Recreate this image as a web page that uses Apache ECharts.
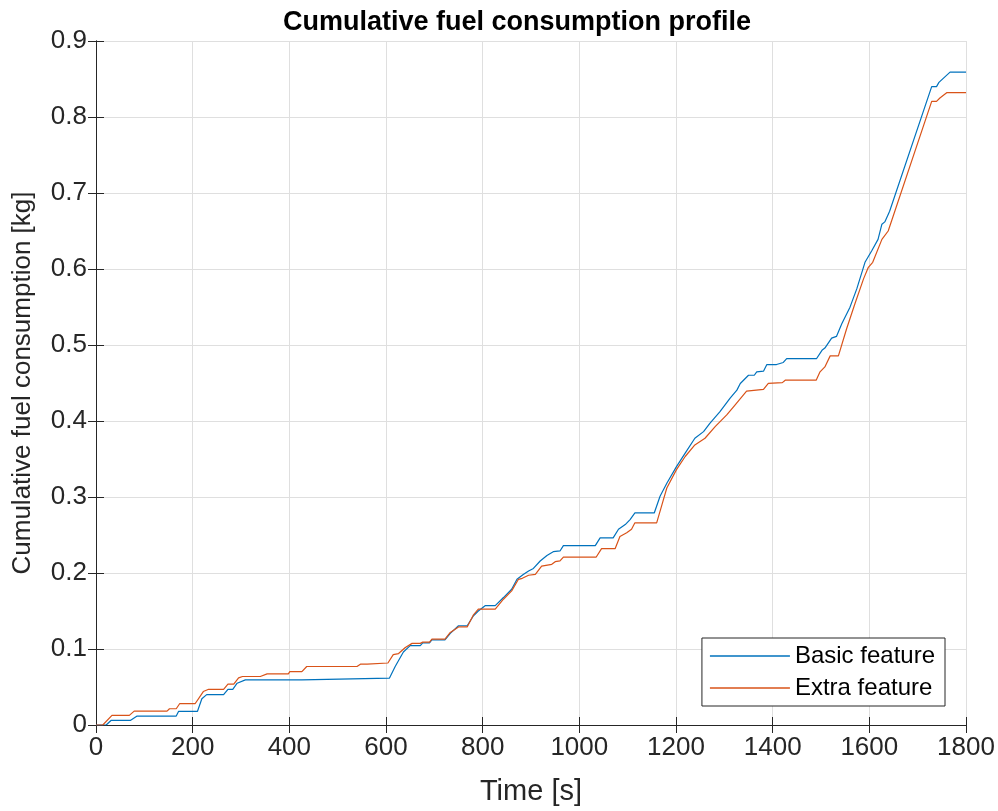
<!DOCTYPE html>
<html>
<head>
<meta charset="utf-8">
<script src="https://cdn.jsdelivr.net/npm/echarts@6/dist/echarts.min.js"></script>
<style>html,body{margin:0;padding:0;background:#fff;}#c{width:998px;height:811px;}</style>
</head>
<body>
<div id="c"></div>
<script>
var seriesNames = ['Basic feature', 'Extra feature'];
var basicTime = [0,21,31,71,85,166,171,210,219,229,264,273,283,292,309,426,429,607,619,636,650,671,676,690,695,722,733,750,768,781,791,805,826,843,860,871,884,895,905,919,933,946,960,967,1033,1043,1070,1081,1095,1105,1115,1155,1167,1181,1201,1219,1239,1257,1270,1291,1312,1326,1333,1350,1362,1367,1381,1388,1408,1422,1429,1491,1502,1508,1522,1532,1543,1560,1574,1591,1605,1618,1626,1632,1642,1729,1739,1744,1767,1800];
var basicFuel = [0,0,0.006,0.006,0.0118,0.0118,0.018,0.018,0.0345,0.040,0.040,0.047,0.047,0.055,0.0594,0.0594,0.0616,0.0616,0.077,0.096,0.1044,0.1044,0.108,0.108,0.112,0.112,0.1205,0.1306,0.1306,0.1437,0.150,0.157,0.157,0.1677,0.1786,0.1917,0.198,0.2027,0.206,0.2158,0.2231,0.228,0.229,0.236,0.236,0.2463,0.2463,0.2575,0.2637,0.2703,0.279,0.279,0.301,0.318,0.340,0.3577,0.3773,0.386,0.397,0.4123,0.430,0.4406,0.4494,0.4602,0.4602,0.4647,0.4655,0.4743,0.4743,0.477,0.4822,0.4822,0.493,0.496,0.509,0.5113,0.528,0.5498,0.5738,0.6088,0.624,0.639,0.659,0.662,0.676,0.840,0.840,0.8455,0.859,0.859];
var extraTime = [0,14,33,69,79,147,152,166,173,205,222,233,264,273,285,295,303,340,354,398,401,426,436,540,547,561,564,604,615,626,640,654,671,676,690,695,722,733,750,768,781,791,826,843,860,874,882,895,909,922,943,950,960,967,1035,1046,1074,1084,1098,1108,1115,1160,1171,1181,1201,1219,1239,1260,1281,1305,1322,1346,1350,1381,1391,1420,1426,1490,1498,1508,1519,1536,1553,1570,1588,1598,1607,1626,1639,1729,1739,1746,1760,1800];
var extraFuel = [0,0,0.0127,0.0127,0.0183,0.0183,0.0214,0.0214,0.028,0.028,0.044,0.047,0.047,0.0537,0.0537,0.062,0.0638,0.0638,0.0673,0.0673,0.0703,0.0703,0.077,0.077,0.080,0.080,0.0816,0.0816,0.0926,0.094,0.102,0.1074,0.1074,0.109,0.109,0.113,0.113,0.1218,0.129,0.129,0.145,0.1524,0.1524,0.1655,0.1765,0.1917,0.193,0.197,0.1983,0.209,0.2114,0.2149,0.216,0.221,0.221,0.232,0.232,0.248,0.2529,0.2575,0.266,0.266,0.290,0.3118,0.336,0.3533,0.3685,0.3773,0.3926,0.408,0.421,0.4393,0.4406,0.4415,0.4494,0.4505,0.4537,0.4537,0.4647,0.4712,0.4857,0.4857,0.5214,0.554,0.587,0.6022,0.6088,0.639,0.650,0.8205,0.8205,0.825,0.832,0.832];
var colors = ['#0072BD', '#D95319'];

function pairs(t, v) { return t.map(function (x, i) { return [x, v[i]]; }); }

var font = '"Liberation Sans", Arial, Helvetica, sans-serif';
var axisCol = '#262626';
var chart = echarts.init(document.getElementById('c'), null, {renderer: 'canvas'});
var baseX = {
  type: 'value', min: 0, max: 1800, interval: 200,
  axisLine: {show: true, lineStyle: {color: axisCol, width: 1}},
  axisTick: {show: true, inside: true, length: 8, lineStyle: {color: axisCol}}
};
var baseY = {
  type: 'value', min: 0, max: 0.9, interval: 0.1,
  axisLine: {show: true, lineStyle: {color: axisCol, width: 1}},
  axisTick: {show: true, inside: true, length: 8, lineStyle: {color: axisCol}}
};
chart.setOption({
  animation: false,
  backgroundColor: '#fff',
  title: {
    text: 'Cumulative fuel consumption profile',
    left: 278, top: 4,
    textStyle: {fontFamily: font, fontWeight: 'bold', fontSize: 27, color: '#000'}
  },
  grid: {left: 96, right: 32, top: 41, bottom: 83, containLabel: false},
  legend: {
    orient: 'vertical', right: 53, bottom: 105,
    backgroundColor: '#fff', borderColor: axisCol, borderWidth: 1,
    padding: [6, 10, 6, 8], itemGap: 8, itemWidth: 80, itemHeight: 1.5, icon: 'rect',
    textStyle: {fontFamily: font, fontSize: 24, color: '#000'},
    data: seriesNames
  },
  xAxis: [
    Object.assign({}, baseX, {
      position: 'bottom',
      name: 'Time [s]', nameLocation: 'middle', nameGap: 52,
      nameTextStyle: {fontFamily: font, fontSize: 29, color: axisCol},
      axisLabel: {fontFamily: font, fontSize: 26, color: axisCol, margin: 10,
        formatter: function (v) { return String(v); }},
      splitLine: {show: true, lineStyle: {color: '#dfdfdf', width: 1}}
    }),
    Object.assign({}, baseX, {position: 'top', axisLabel: {show: false}, splitLine: {show: false}})
  ],
  yAxis: [
    Object.assign({}, baseY, {
      position: 'left',
      name: 'Cumulative fuel consumption [kg]', nameLocation: 'middle', nameGap: 60,
      nameTextStyle: {fontFamily: font, fontSize: 26, color: axisCol},
      axisLabel: {fontFamily: font, fontSize: 26, color: axisCol, margin: 9,
        formatter: function (v) { return String(Math.round(v * 10) / 10); }},
      splitLine: {show: true, lineStyle: {color: '#dfdfdf', width: 1}}
    }),
    Object.assign({}, baseY, {position: 'right', axisLabel: {show: false}, splitLine: {show: false}})
  ],
  series: [
    {name: seriesNames[0], type: 'line', xAxisIndex: 0, yAxisIndex: 0, data: pairs(basicTime, basicFuel),
     symbol: 'none', color: colors[0], lineStyle: {color: colors[0], width: 1.2}},
    {name: seriesNames[1], type: 'line', xAxisIndex: 0, yAxisIndex: 0, data: pairs(extraTime, extraFuel),
     symbol: 'none', color: colors[1], lineStyle: {color: colors[1], width: 1.2}}
  ]
});
</script>
</body>
</html>
